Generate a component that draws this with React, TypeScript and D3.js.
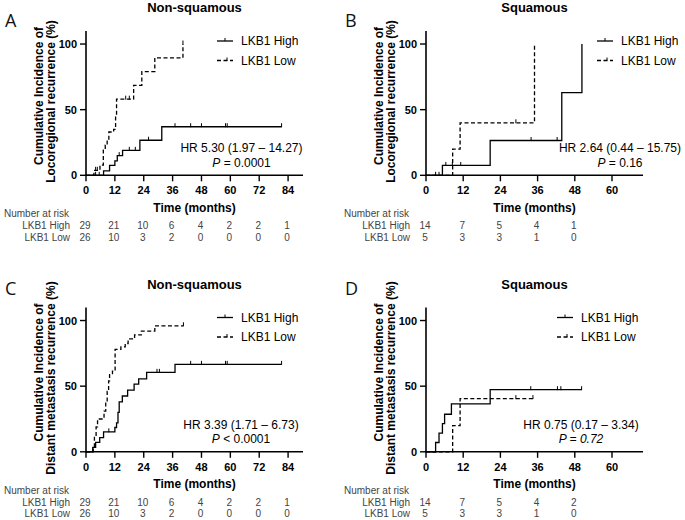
import React from "react";
import * as d3 from "d3";

// ---------- data ----------
const ticksLong = [0, 12, 24, 36, 48, 60, 72, 84];
const ticksShort = [0, 12, 24, 36, 48, 60];
const percentTicks = [0, 50, 100];

const titleNonSq = "Non-squamous";
const titleSq = "Squamous";
const ylabLoco = ["Cumulative Incidence of", "Locoregional recurrence (%)"];
const ylabDist = ["Cumulative Incidence of", "Distant metastasis recurrence (%)"];
const seriesNames = ["LKB1 High", "LKB1 Low"];

// Panel A: non-squamous locoregional
const aHigh: [number, number][] = [[0, 0], [7.3, 3.4], [9.8, 7.5], [12, 11], [13, 15], [15.2, 19], [22.4, 26.7], [31.5, 37]];
const aHighEnd = 81.3;
const aHighCensor = [4, 5.5, 13.8, 18, 20.5, 26, 37, 43.5, 48, 58, 58.7, 81.3];
const aLow: [number, number][] = [[0, 0], [3.3, 3.8], [5.8, 7.7], [7.2, 19.2], [8, 23], [8.8, 27], [9.5, 33], [11.5, 35], [12.3, 46], [12.7, 58], [19.8, 68.5], [23.2, 79], [28.6, 89.5], [40.3, 100]];
const aLowEnd = 40.3;
const aLowCensor = [4, 4.7, 16.5, 18, 40.3];
const aRiskHigh = [29, 21, 10, 6, 4, 2, 2, 1];
const aRiskLow = [26, 10, 3, 2, 0, 0, 0, 0];

// Panel B: squamous locoregional
const bHigh: [number, number][] = [[0, 0], [5.3, 7.5], [20.7, 26.5], [43.8, 63], [50.3, 100]];
const bHighEnd = 50.3;
const bHighCensor = [3.1, 4.2, 6.4, 8.5, 11.2, 33.9, 42.3];
const bLow: [number, number][] = [[0, 0], [8.6, 20], [11, 40], [35, 100]];
const bLowEnd = 35;
const bLowCensor = [29];
const bRiskHigh = [14, 7, 5, 4, 1];
const bRiskLow = [5, 3, 3, 1, 0];

// Panel C: non-squamous distant metastasis
const cHigh: [number, number][] = [[0, 0], [2.8, 3.4], [4, 7.2], [5.7, 10.8], [7.3, 15.2], [12, 18.5], [12.7, 22], [13.3, 30], [13.8, 38], [15.1, 42.5], [17.3, 47], [20, 51.5], [21.9, 55.5], [25.2, 60.5], [37, 66.6]];
const cHighEnd = 81.3;
const cHighCensor = [9.5, 29.5, 30.5, 43.5, 48, 58, 58.7, 81.3];
const cLow: [number, number][] = [[0, 0], [3, 4], [3.5, 11.5], [4.2, 19], [4.8, 25], [7.5, 31], [8.2, 38], [8.8, 46], [9.4, 54], [9.8, 59.5], [11, 61.5], [12.1, 78], [14.5, 80], [16.3, 82.5], [17.5, 86], [20.2, 89], [23, 92], [28.6, 96]];
const cLowEnd = 40.5;
const cLowCensor = [40.5];
const cRiskHigh = [29, 21, 10, 6, 4, 2, 2, 1];
const cRiskLow = [26, 10, 3, 2, 0, 0, 0, 0];

// Panel D: squamous distant metastasis
const dHigh: [number, number][] = [[0, 0], [3.1, 7.1], [4.2, 14.3], [5.3, 21.4], [6, 28.6], [8.2, 36.5], [20.7, 47.3]];
const dHighEnd = 50.2;
const dHighCensor = [33.8, 42.4, 43.5, 50.2];
const dLow: [number, number][] = [[0, 0], [8.6, 20], [11, 40.5]];
const dLowEnd = 34.5;
const dLowCensor = [29, 34.5];
const dRiskHigh = [14, 7, 5, 4, 2];
const dRiskLow = [5, 3, 3, 1, 0];

const hrA = ["HR 5.30 (1.97 – 14.27)", "= 0.0001"];
const hrB = ["HR 2.64 (0.44 – 15.75)", "= 0.16"];
const hrC = ["HR 3.39 (1.71 – 6.73)", "< 0.0001"];
const hrD = ["HR 0.75 (0.17 – 3.34)", "= 0.72"];

// ---------- drawing ----------
const FONT = "'Liberation Sans', Arial, sans-serif";

type PanelProps = {
  ox: number; oy: number; letter: string; letterY: number; title: string; ylab: string[];
  xMax: number; ticks: number[];
  high: [number, number][]; highEnd: number; highCensor: number[];
  low: [number, number][]; lowEnd: number; lowCensor: number[];
  riskHigh: number[]; riskLow: number[];
  hr: string[]; pItalicAll: boolean; legendDx: number; hrCx: number;
};

function levelAt(steps: [number, number][], t: number) {
  let v = 0;
  for (const [x, y] of steps) if (x <= t) v = y;
  return v;
}

function Panel(p: PanelProps) {
  const left = 86, right = 303;
  const x = d3.scaleLinear().domain([0, p.xMax]).range([left, right]);
  const y = d3.scaleLinear().domain([0, 110]).range([175.3, 30.9]);
  const line = d3.line<[number, number]>().x(d => x(d[0])).y(d => y(d[1])).curve(d3.curveStepAfter);
  const hiPts: [number, number][] = [...p.high, [p.highEnd, p.high[p.high.length - 1][1]]];
  const loPts: [number, number][] = [...p.low, [p.lowEnd, p.low[p.low.length - 1][1]]];
  const dash = "4,2.5";
  const ld = p.legendDx;
  return (
    <g transform={`translate(${p.ox},${p.oy})`} fontFamily={FONT}>
      <text x={5} y={p.letterY} fontSize={18} fontFamily="'Open Sans', sans-serif" fill="#111">{p.letter}</text>
      <text x={(left + right) / 2} y={12} fontSize={13} fontWeight="bold" textAnchor="middle">{p.title}</text>
      {/* y label */}
      <text transform={`translate(39,96) rotate(-90)`} fontSize={12} fontWeight="bold" textAnchor="middle" dominantBaseline="central">{p.ylab[0]}</text>
      <text transform={`translate(50.5,101.5) rotate(-90)`} fontSize={12} fontWeight="bold" textAnchor="middle" dominantBaseline="central">{p.ylab[1]}</text>
      {/* axes */}
      <line x1={left} x2={left} y1={y(110)} y2={y(0)} stroke="#000" strokeWidth={1.6} />
      <line x1={left - 0.8} x2={right} y1={y(0)} y2={y(0)} stroke="#000" strokeWidth={1.6} />
      {percentTicks.map(t => (
        <g key={"y" + t}>
          <line x1={left - 6} x2={left} y1={y(t)} y2={y(t)} stroke="#000" strokeWidth={1.4} />
          <text x={left - 9} y={y(t)} fontSize={11} fontWeight="bold" textAnchor="end" dominantBaseline="central">{t}</text>
        </g>
      ))}
      {p.ticks.map(t => (
        <g key={"x" + t}>
          <line x1={x(t)} x2={x(t)} y1={y(0)} y2={y(0) + 6} stroke="#000" strokeWidth={1.4} />
          <text x={x(t)} y={194} fontSize={11} fontWeight="bold" textAnchor="middle">{t}</text>
        </g>
      ))}
      <text x={(left + right) / 2} y={211.5} fontSize={12} fontWeight="bold" textAnchor="middle">Time (months)</text>
      {/* curves */}
      <path d={line(hiPts) || ""} fill="none" stroke="#000" strokeWidth={1.3} />
      <path d={line(loPts) || ""} fill="none" stroke="#000" strokeWidth={1.3} strokeDasharray={dash} />
      {p.highCensor.map((c, i) => (
        <line key={"hc" + i} x1={x(c)} x2={x(c)} y1={y(levelAt(p.high, c)) - 3.5} y2={y(levelAt(p.high, c)) + 0.5} stroke="#000" strokeWidth={1} />
      ))}
      {p.lowCensor.map((c, i) => (
        <line key={"lc" + i} x1={x(c)} x2={x(c)} y1={y(levelAt(p.low, c)) - 3.5} y2={y(levelAt(p.low, c)) + 0.5} stroke="#000" strokeWidth={1} />
      ))}
      {/* legend */}
      <line x1={217 + ld} x2={233 + ld} y1={41} y2={41} stroke="#000" strokeWidth={1.3} />
      <line x1={225 + ld} x2={225 + ld} y1={38} y2={41} stroke="#000" strokeWidth={1} />
      <text x={241 + ld} y={45.2} fontSize={12}>{seriesNames[0]}</text>
      <line x1={217 + ld} x2={233 + ld} y1={60.5} y2={60.5} stroke="#000" strokeWidth={1.3} strokeDasharray={dash} />
      <line x1={227 + ld} x2={227 + ld} y1={57.5} y2={60.5} stroke="#000" strokeWidth={1} />
      <text x={241 + ld} y={64.7} fontSize={12}>{seriesNames[1]}</text>
      {/* HR */}
      <text x={p.hrCx} y={152.3} fontSize={12} textAnchor="middle">{p.hr[0]}</text>
      <text x={p.hrCx} y={166.6} fontSize={12} textAnchor="middle">
        <tspan fontStyle="italic">P</tspan>
        <tspan fontStyle={p.pItalicAll ? "italic" : "normal"}>{" " + p.hr[1]}</tspan>
      </text>
      {/* number at risk */}
      <text x={4} y={217} fontSize={10} fill="#444">Number at risk</text>
      <text x={70} y={229} fontSize={10} fill="#444" textAnchor="end">{seriesNames[0]}</text>
      <text x={70} y={240.5} fontSize={10} fill="#444" textAnchor="end">{seriesNames[1]}</text>
      {p.riskHigh.map((n, i) => (
        <text key={"rh" + i} x={x(p.ticks[i]) - 1} y={229} fontSize={10} fill="#444" textAnchor="middle">{n}</text>
      ))}
      {p.riskLow.map((n, i) => (
        <text key={"rl" + i} x={x(p.ticks[i]) - 1} y={240.5} fontSize={10} fill="#444" textAnchor="middle">{n}</text>
      ))}
    </g>
  );
}

export default function App() {
  return (
    <svg width={685} height={520} viewBox="0 0 685 520" style={{ display: "block", position: "absolute", left: 0, top: 0, background: "#fff" }}>
      <rect width={685} height={520} fill="#fff" />
      <Panel ox={0} oy={0} letter="A" letterY={27} title={titleNonSq} ylab={ylabLoco} xMax={90.2} ticks={ticksLong}
        high={aHigh} highEnd={aHighEnd} highCensor={aHighCensor} low={aLow} lowEnd={aLowEnd} lowCensor={aLowCensor}
        riskHigh={aRiskHigh} riskLow={aRiskLow} hr={hrA} pItalicAll={false} legendDx={0} hrCx={241.5} />
      <Panel ox={340} oy={0} letter="B" letterY={27} title={titleSq} ylab={ylabLoco} xMax={70} ticks={ticksShort}
        high={bHigh} highEnd={bHighEnd} highCensor={bHighCensor} low={bLow} lowEnd={bLowEnd} lowCensor={bLowCensor}
        riskHigh={bRiskHigh} riskLow={bRiskLow} hr={hrB} pItalicAll={false} legendDx={40} hrCx={280} />
      <Panel ox={0} oy={276.5} letter="C" letterY={18.5} title={titleNonSq} ylab={ylabDist} xMax={90.2} ticks={ticksLong}
        high={cHigh} highEnd={cHighEnd} highCensor={cHighCensor} low={cLow} lowEnd={cLowEnd} lowCensor={cLowCensor}
        riskHigh={cRiskHigh} riskLow={cRiskLow} hr={hrC} pItalicAll={false} legendDx={0} hrCx={241} />
      <Panel ox={340} oy={276.5} letter="D" letterY={18.5} title={titleSq} ylab={ylabDist} xMax={70} ticks={ticksShort}
        high={dHigh} highEnd={dHighEnd} highCensor={dHighCensor} low={dLow} lowEnd={dLowEnd} lowCensor={dLowCensor}
        riskHigh={dRiskHigh} riskLow={dRiskLow} hr={hrD} pItalicAll={true} legendDx={0} hrCx={241} />
    </svg>
  );
}
